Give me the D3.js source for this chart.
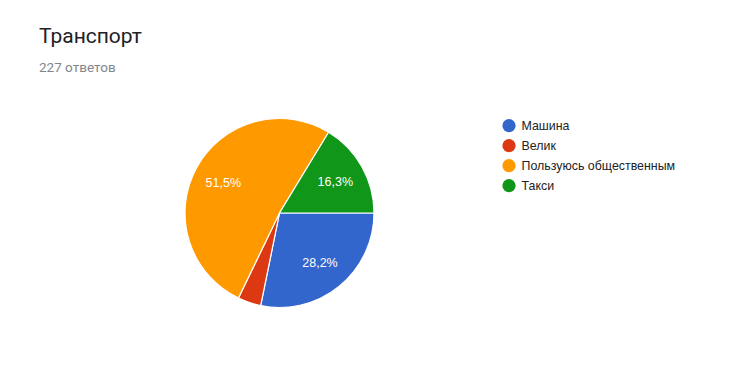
<!DOCTYPE html>
<html><head><meta charset="utf-8">
<script src="https://cdn.jsdelivr.net/npm/d3@7"></script>
<style>html,body{margin:0;padding:0;background:#fff;}</style>
</head><body>
<svg id="c" width="750" height="368"></svg>
<script>
const categories = ["Машина", "Велик", "Пользуюсь общественным", "Такси"];
const counts = [64, 9, 117, 37];
const labels = ["28,2%", "4%", "51,5%", "16,3%"];
const colors = ["#3366cc", "#dc3912", "#ff9900", "#109618"];
const title = "Транспорт";
const subtitle = "227 ответов";

const svg = d3.select("#c");
svg.append("text").attr("x", 39).attr("y", 43).attr("font-family", "Roboto, sans-serif")
  .attr("font-size", 21).attr("fill", "#202124").text(title);
svg.append("text").attr("x", 39).attr("y", 72).attr("font-family", "Roboto, sans-serif")
  .attr("font-size", 13.5).attr("fill", "#80868b").text(subtitle);

const cx = 279.5, cy = 213, R = 94.5;
const pie = d3.pie().sort(null).value(d => d)
  .startAngle(Math.PI / 2).endAngle(Math.PI / 2 + 2 * Math.PI);
const arcs = pie(counts);
const arc = d3.arc().innerRadius(0).outerRadius(R);
const labelArc = d3.arc().innerRadius(64).outerRadius(64);
const g = svg.append("g").attr("transform", `translate(${cx},${cy})`);
g.selectAll("path").data(arcs).join("path")
  .attr("d", arc).attr("fill", (d, i) => colors[i])
  .attr("stroke", "#fff").attr("stroke-width", 1.2);
g.selectAll("text").data(arcs.filter(d => (d.endAngle - d.startAngle) > 0.5)).join("text")
  .attr("transform", d => `translate(${labelArc.centroid(d)})`)
  .attr("text-anchor", "middle").attr("dy", "0.38em")
  .attr("font-family", "'Liberation Sans', Arial, sans-serif").attr("font-size", 12.5)
  .attr("fill", "#fff").text(d => labels[d.index]);

const lg = svg.append("g").attr("transform", "translate(509,125.7)");
const item = lg.selectAll("g").data(categories).join("g")
  .attr("transform", (d, i) => `translate(0,${i * 20})`);
item.append("circle").attr("r", 6.6).attr("fill", (d, i) => colors[i]);
item.append("text").attr("x", 12.5).attr("dy", "0.36em")
  .attr("font-family", "'Liberation Sans', Arial, sans-serif").attr("font-size", 12.4)
  .attr("fill", "#222").text(d => d);
</script>
</body></html>
